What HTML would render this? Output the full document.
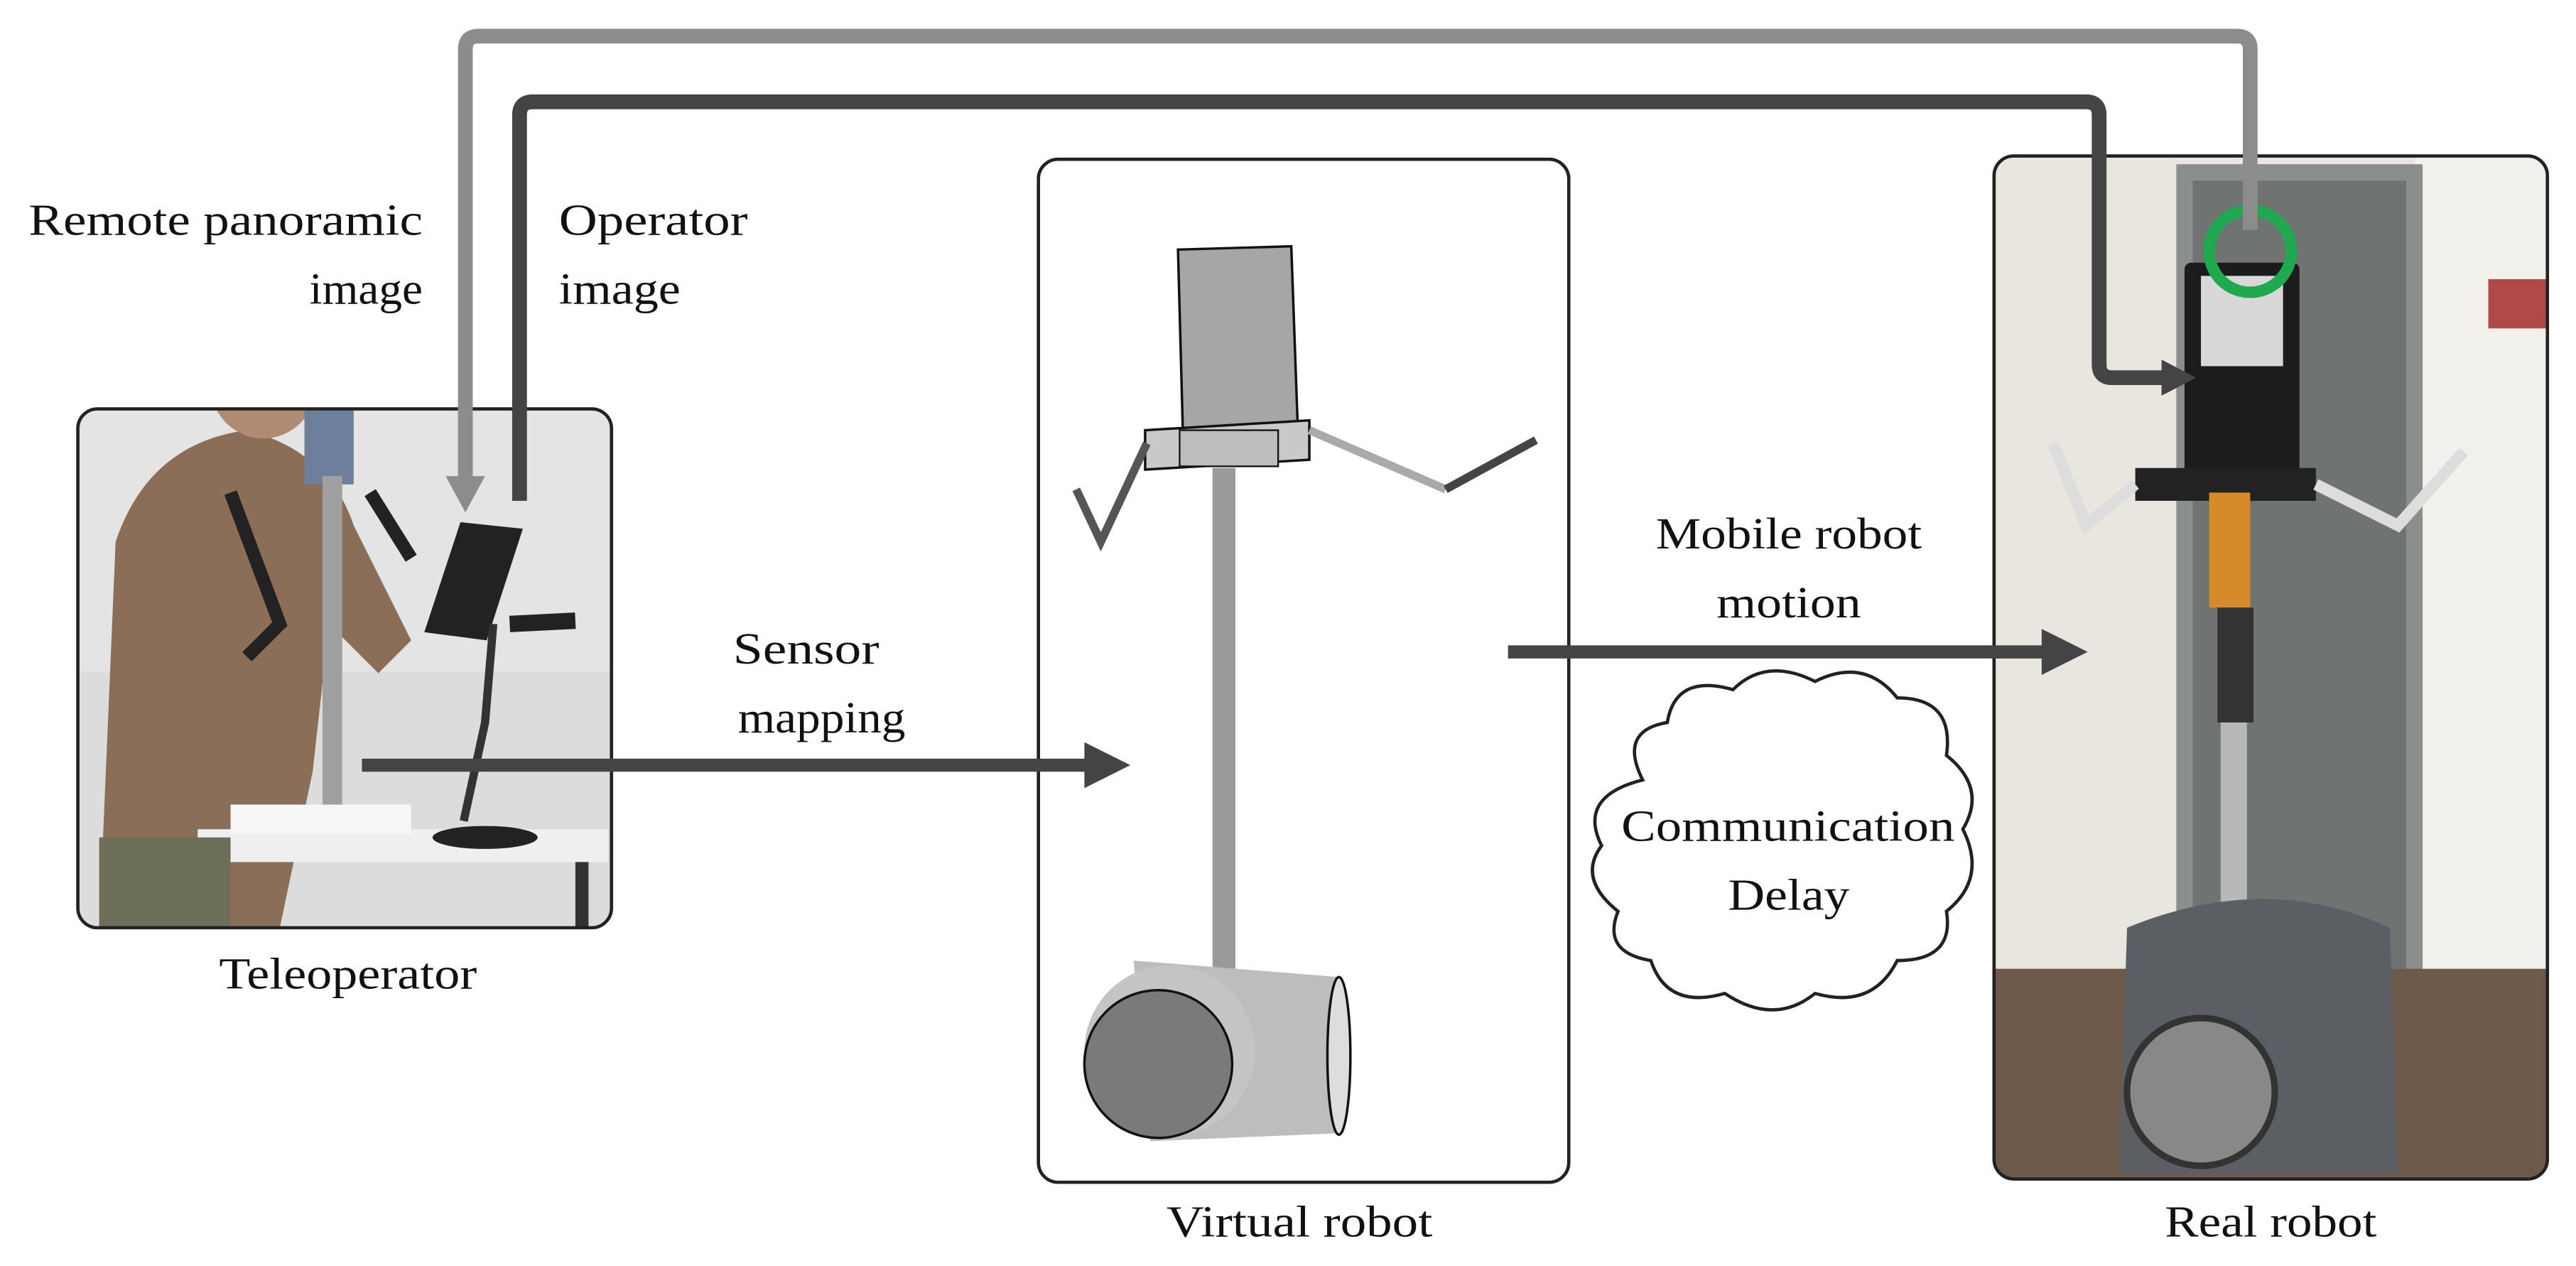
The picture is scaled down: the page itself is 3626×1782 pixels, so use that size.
<!DOCTYPE html>
<html><head><meta charset="utf-8"><style>
html,body{margin:0;padding:0;background:#fff}
svg{display:block}
text{font-family:"Liberation Serif",serif;fill:#111}
</style></head><body>
<svg width="3626" height="1782" viewBox="0 0 1568 771" xmlns="http://www.w3.org/2000/svg">
<defs>
<clipPath id="c1"><rect x="47" y="249" width="325" height="316" rx="12"/></clipPath>
<clipPath id="c2"><rect x="1214" y="95" width="337" height="623" rx="12"/></clipPath>
</defs>

<!-- Teleoperator photo -->
<g clip-path="url(#c1)">
<rect x="47" y="249" width="325" height="316" fill="#dcdcdc"/>
<rect x="47" y="249" width="325" height="160" fill="#e4e4e4"/>
<path d="M60 565 L70 330 Q90 270 150 262 Q200 275 215 320 L250 390 L230 410 L200 380 L190 470 L170 565 Z" fill="#8a6e57"/>
<circle cx="160" cy="235" r="32" fill="#b08c74"/>
<rect x="185" y="250" width="30" height="45" fill="#6d7f9a"/>
<rect x="196" y="290" width="12" height="200" fill="#a0a0a0"/>
<rect x="120" y="505" width="250" height="20" fill="#efefef"/>
<rect x="140" y="490" width="110" height="18" fill="#f6f6f6"/>
<rect x="125" y="525" width="8" height="40" fill="#333"/>
<rect x="350" y="525" width="8" height="40" fill="#333"/>
<rect x="60" y="510" width="80" height="55" fill="#6c6e58"/>
<polygon points="258,385 280,318 318,322 296,390" fill="#222"/>
<path d="M300 380 L295 440 L282 500" stroke="#333" stroke-width="5" fill="none"/>
<ellipse cx="295" cy="510" rx="32" ry="7" fill="#222"/>
<path d="M310 380 L350 378" stroke="#222" stroke-width="10"/>
<path d="M140 300 L170 380 L150 400" stroke="#222" stroke-width="8" fill="none"/>
<path d="M225 300 L250 340" stroke="#222" stroke-width="8" fill="none"/>
</g>
<rect x="47" y="249" width="325" height="316" rx="12" fill="none" stroke="#222" stroke-width="2"/>
<text x="133" y="602" font-size="27" textLength="157" lengthAdjust="spacingAndGlyphs">Teleoperator</text>

<!-- Virtual robot -->
<rect x="632" y="97" width="323" height="623" rx="12" fill="#fff" stroke="#222" stroke-width="2"/>
<rect x="738" y="285" width="14" height="310" fill="#9a9a9a"/>
<polygon points="717,152 786,150 790,262 720,264" fill="#a6a6a6" stroke="#111" stroke-width="1.5"/>
<polygon points="697,262 797,256 797,280 697,286" fill="#c9c9c9" stroke="#111" stroke-width="1.5"/>
<rect x="718" y="262" width="60" height="22" fill="#bdbdbd" stroke="#111" stroke-width="1"/>
<path d="M698 270 L670 330 L655 298" stroke="#555" stroke-width="5" fill="none"/>
<path d="M797 262 L880 298" stroke="#aaa" stroke-width="5" fill="none"/>
<path d="M880 298 L935 268" stroke="#444" stroke-width="5" fill="none"/>
<path d="M690 585 L815 595 L818 690 L700 695 Z" fill="#bdbdbd"/>
<ellipse cx="815" cy="643" rx="7" ry="48" fill="#ddd" stroke="#111" stroke-width="1.5"/>
<circle cx="712" cy="640" r="52" fill="#c4c4c4"/>
<circle cx="705" cy="648" r="45" fill="#7a7a7a" stroke="#111" stroke-width="1.5"/>
<text x="710" y="753" font-size="27" textLength="162" lengthAdjust="spacingAndGlyphs">Virtual robot</text>

<!-- Real robot photo -->
<g clip-path="url(#c2)">
<rect x="1214" y="95" width="337" height="623" fill="#e9e6e0"/>
<rect x="1470" y="95" width="81" height="500" fill="#f2f0ec"/>
<rect x="1325" y="100" width="150" height="500" fill="#8a8e8c"/>
<rect x="1335" y="110" width="130" height="480" fill="#6f7472"/>
<rect x="1515" y="170" width="36" height="30" fill="#b04a4a"/>
<rect x="1214" y="590" width="337" height="128" fill="#6e5a4a"/>
<rect x="1330" y="160" width="70" height="140" rx="4" fill="#1c1c1c"/>
<rect x="1340" y="168" width="50" height="55" fill="#d8d8d8"/>
<rect x="1300" y="285" width="110" height="20" fill="#222"/>
<path d="M1300 295 L1270 320 L1250 270" stroke="#ddd" stroke-width="7" fill="none"/>
<path d="M1410 295 L1460 320 L1500 275" stroke="#ddd" stroke-width="7" fill="none"/>
<rect x="1345" y="300" width="25" height="70" fill="#d68a2a"/>
<rect x="1350" y="370" width="22" height="70" fill="#333"/>
<rect x="1352" y="440" width="16" height="110" fill="#b8b8b8"/>
<path d="M1295 565 Q1380 530 1455 565 L1460 715 L1290 715 Z" fill="#5b5f63"/>
<circle cx="1340" cy="665" r="45" fill="#888" stroke="#333" stroke-width="4"/>
</g>
<rect x="1214" y="95" width="337" height="623" rx="12" fill="none" stroke="#222" stroke-width="2"/>
<circle cx="1370" cy="153" r="25" fill="none" stroke="#1faa50" stroke-width="7"/>
<text x="1318" y="753" font-size="27" textLength="129" lengthAdjust="spacingAndGlyphs">Real robot</text>

<!-- Top connectors -->
<path d="M283 292 L283 30 Q283 22 291 22 L1362 22 Q1370 22 1370 30 L1370 140" stroke="#8c8c8c" stroke-width="9" fill="none"/>
<polygon points="271,290 295,290 283,312" fill="#8c8c8c"/>
<path d="M316 305 L316 70 Q316 62 324 62 L1270 62 Q1278 62 1278 70 L1278 222 Q1278 230 1286 230 L1318 230" stroke="#444" stroke-width="9" fill="none"/>
<polygon points="1316,219 1316,241 1337,230" fill="#444"/>

<!-- Horizontal arrows -->
<line x1="220" y1="466" x2="665" y2="466" stroke="#444" stroke-width="8"/>
<polygon points="660,452 660,480 688,466" fill="#444"/>
<line x1="918" y1="397" x2="1248" y2="397" stroke="#444" stroke-width="8"/>
<polygon points="1243,383 1243,411 1271,397" fill="#444"/>

<!-- Labels -->
<text x="17" y="143" font-size="27" textLength="240" lengthAdjust="spacingAndGlyphs">Remote panoramic</text>
<text x="188" y="185" font-size="27" textLength="69" lengthAdjust="spacingAndGlyphs">image</text>
<text x="340" y="143" font-size="27" textLength="115" lengthAdjust="spacingAndGlyphs">Operator</text>
<text x="340" y="185" font-size="27" textLength="74" lengthAdjust="spacingAndGlyphs">image</text>
<text x="446" y="404" font-size="27" textLength="89" lengthAdjust="spacingAndGlyphs">Sensor</text>
<text x="449" y="446" font-size="27" textLength="102" lengthAdjust="spacingAndGlyphs">mapping</text>
<text x="1008" y="334" font-size="27" textLength="162" lengthAdjust="spacingAndGlyphs">Mobile robot</text>
<text x="1045" y="376" font-size="27" textLength="88" lengthAdjust="spacingAndGlyphs">motion</text>

<!-- Cloud -->
<g transform="translate(0,15)">
<path d="M1000 460 Q985 430 1015 425 Q1020 395 1055 405 Q1075 385 1105 400 Q1135 385 1155 410 Q1190 410 1185 445 Q1210 465 1195 490 Q1210 520 1185 540 Q1190 570 1155 570 Q1140 600 1105 590 Q1080 610 1050 590 Q1015 600 1005 570 Q975 565 985 540 Q960 520 975 500 Q960 470 1000 460 Z" fill="#fff" stroke="#222" stroke-width="2"/>
</g>
<text x="987" y="512" font-size="27" textLength="203" lengthAdjust="spacingAndGlyphs">Communication</text>
<text x="1052" y="554" font-size="27" textLength="74" lengthAdjust="spacingAndGlyphs">Delay</text>
</svg>
</body></html>
